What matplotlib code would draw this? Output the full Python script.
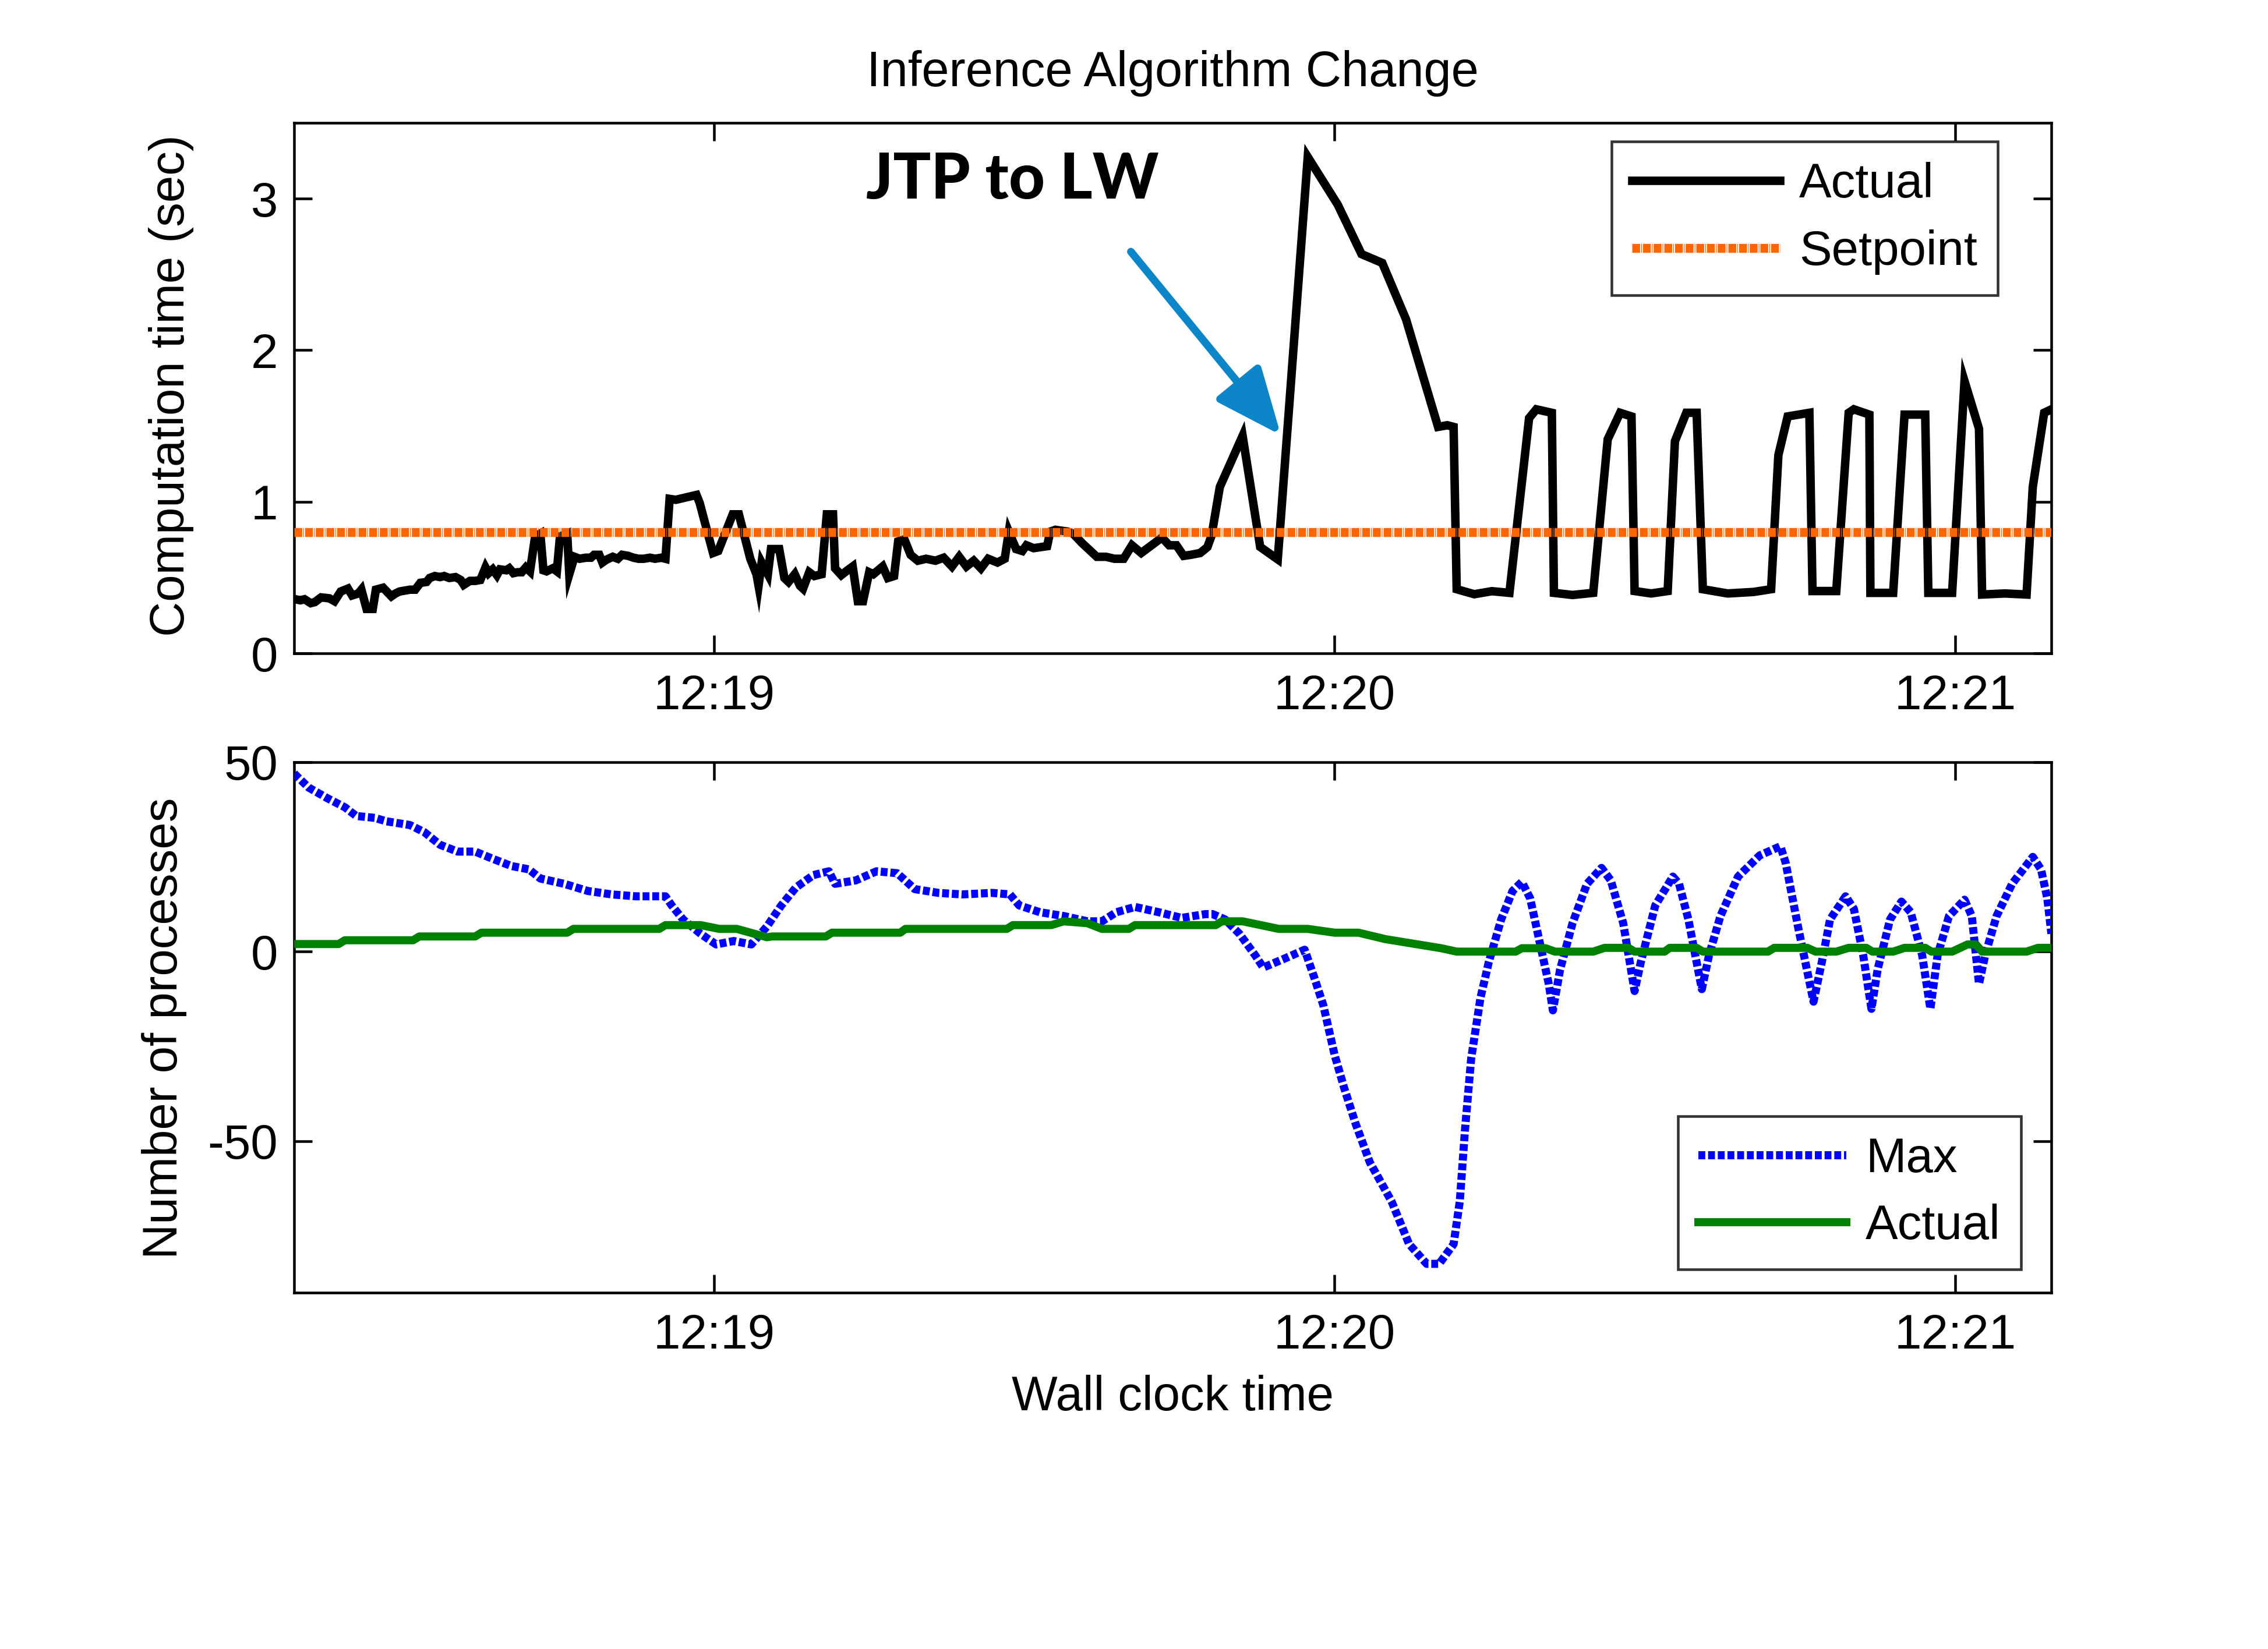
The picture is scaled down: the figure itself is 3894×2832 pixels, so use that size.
"""
Inference Algorithm Change: computation time vs setpoint, and process counts.
"""
import matplotlib
matplotlib.use("Agg")
import matplotlib.pyplot as plt

plt.rcParams["font.family"] = ["Liberation Sans", "DejaVu Sans"]
plt.rcParams["axes.unicode_minus"] = False

# time axis: seconds after 12:18:00
XLIM = (19.4, 189.3)
XTICKS = [60, 120, 180]
XTICK_LABELS = ["12:19", "12:20", "12:21"]

SETPOINT = 0.8

# top panel: measured computation time (sec)
comp_t = [
    19.4, 19.5, 20.0, 20.4, 21.0, 21.4, 22.0, 22.8, 23.3, 23.9, 24.6, 25.0,
    25.6, 25.9, 26.4, 27.0, 27.3, 28.0, 28.8, 29.2, 29.6, 30.1, 30.6, 31.1,
    31.6, 32.2, 32.5, 33.0, 33.5, 33.9, 34.4, 35.0, 35.5, 35.8, 36.4, 36.9,
    37.4, 37.9, 38.2, 38.6, 39.0, 39.3, 39.9, 40.2, 40.6, 41.0, 41.4, 41.8,
    42.2, 42.7, 43.2, 43.5, 43.8, 44.4, 44.8, 45.1, 45.8, 46.0, 46.5, 47.0,
    47.6, 48.1, 48.4, 48.9, 49.2, 49.6, 50.2, 50.7, 51.1, 51.7, 52.2, 52.7,
    53.2, 53.8, 54.3, 54.9, 55.3, 55.7, 56.3, 58.3, 58.6, 59.9, 60.4, 61.8,
    62.4, 63.5,
    64.1, 64.3, 64.6, 65.2, 65.5, 66.3, 66.8, 67.2, 67.8, 68.3, 68.6, 69.2,
    69.7, 70.4, 70.9, 71.5, 71.7, 72.3, 72.9, 73.4, 73.9, 74.4, 75.0, 75.4,
    76.3, 76.8, 77.4, 77.8, 78.4, 79.0, 79.7, 80.5, 81.4, 82.2, 83.0, 83.7,
    84.4, 85.1, 85.8, 86.5, 87.4, 88.1, 88.5, 89.2, 89.8, 90.2, 90.9, 91.6,
    92.2, 92.5, 93.0, 94.2, 94.7, 95.6, 96.4, 97.0, 97.9, 98.7, 99.6, 100.4,
    101.3, 102.3, 103.3, 104.0, 104.7, 105.4, 106.1, 107.0, 107.7, 108.1,
    108.9, 111.1, 112.8, 114.5, 117.4, 120.3, 122.6, 124.6, 126.9, 130.0,
    130.9, 131.5, 131.8, 133.5, 135.2, 136.9, 138.8, 139.5, 141.0, 141.2,
    143.0, 145.0, 146.4, 147.6, 148.7, 149.0, 150.6, 152.2, 152.9, 154.0,
    155.0, 155.6, 158.0, 160.5, 162.2, 162.9, 163.8, 165.9, 166.2, 168.5,
    169.7, 170.2, 171.7, 171.8, 174.0, 175.1, 177.1, 177.4, 179.7, 180.9,
    182.3, 182.6, 184.8, 186.9, 187.5, 188.6, 189.3,
]
comp_sec = [
    0.36, 0.357, 0.350, 0.357, 0.331, 0.338, 0.369, 0.363, 0.344, 0.408, 0.427, 0.382,
    0.395, 0.420, 0.293, 0.293, 0.420, 0.433, 0.376, 0.395, 0.408, 0.414, 0.420, 0.420,
    0.465, 0.471, 0.497, 0.510, 0.503, 0.510, 0.497, 0.503, 0.484, 0.452, 0.478, 0.478,
    0.484, 0.567, 0.529, 0.554, 0.516, 0.554, 0.548, 0.561, 0.529, 0.535, 0.535, 0.567,
    0.541, 0.771, 0.790, 0.548, 0.541, 0.561, 0.541, 0.771, 0.790, 0.522, 0.637, 0.624,
    0.631, 0.631, 0.650, 0.650, 0.599, 0.618, 0.637, 0.624, 0.650, 0.643, 0.631, 0.624,
    0.624, 0.631, 0.624, 0.631, 0.624, 1.019, 1.013, 1.045, 0.994, 0.662, 0.675, 0.917,
    0.917, 0.624,
    0.522, 0.446, 0.599, 0.522, 0.688, 0.688, 0.497, 0.471, 0.522, 0.446, 0.427, 0.535,
    0.510, 0.522, 0.917, 0.917, 0.561, 0.516, 0.548, 0.573, 0.344, 0.344, 0.535, 0.522,
    0.573, 0.497, 0.510, 0.739, 0.752, 0.650, 0.611, 0.624, 0.611, 0.631, 0.573, 0.637,
    0.573, 0.611, 0.561, 0.624, 0.599, 0.624, 0.803, 0.688, 0.675, 0.713, 0.694, 0.701,
    0.707, 0.803, 0.815, 0.803, 0.790, 0.726, 0.675, 0.637, 0.637, 0.624, 0.624, 0.713,
    0.662, 0.713, 0.764, 0.713, 0.713, 0.643, 0.650, 0.662, 0.701, 0.777,
    1.098, 1.435, 0.702, 0.620, 3.275, 2.960, 2.634, 2.576, 2.204, 1.494,
    1.505, 1.494, 0.423, 0.390, 0.410, 0.399, 1.552, 1.610, 1.587, 0.399,
    0.385, 0.399, 1.412, 1.587, 1.563, 0.411, 0.395, 0.411, 1.400, 1.587,
    1.587, 0.423, 0.395, 0.405, 0.423, 1.307, 1.563, 1.587, 0.411, 0.411,
    1.587, 1.610, 1.575, 0.399, 0.399, 1.575, 1.575, 0.399, 0.399, 1.796,
    1.482, 0.388, 0.395, 0.388, 1.098, 1.587, 1.610,
]

# bottom panel: number of processes
max_t = [
    19.4, 20.8, 22.6, 24.3, 25.4, 27.2, 28.3, 30.6, 32.0, 33.5, 35.2, 36.9,
    38.6, 40.4, 42.1, 43.2, 45.5, 47.8, 50.1, 52.4, 55.3, 55.9, 57.0, 58.7,
    60.2, 61.9, 63.6, 65.1, 66.5, 67.9, 69.6, 71.1, 71.7, 73.7, 75.7, 77.7,
    79.4, 81.7, 84.0, 86.9, 88.6, 89.5, 91.5, 93.8, 96.1, 97.5, 98.9, 100.7,
    103.0, 105.2, 107.5, 108.2, 109.4, 110.8, 112.3, 113.1, 115.1, 117.1,
    118.0, 118.9, 120.0, 120.9, 122.0, 123.4, 125.5, 127.2, 128.9, 130.1,
    131.5, 132.1, 132.6, 133.2, 134.1, 134.9, 136.1, 137.2, 138.1, 138.9,
    139.8, 140.7, 141.1, 141.8, 143.0, 144.4, 145.8, 146.7, 147.9, 149.0,
    149.6, 151.0, 152.7, 153.3, 154.2, 155.5, 156.2, 157.3, 159.0, 161.1,
    163.1, 163.6, 164.8, 166.3, 167.1, 167.9, 169.4, 170.2, 171.1, 171.9,
    172.5, 173.7, 174.8, 175.7, 176.8, 177.6, 178.3, 179.4, 180.9, 181.6,
    182.3, 182.9, 184.0, 185.5, 187.5, 188.3, 188.9, 189.3,
]
max_procs = [
    47.0, 43.3, 40.5, 38.1, 35.8, 35.3, 34.4, 33.4, 31.5, 28.2, 26.4, 26.4,
    24.5, 22.6, 21.7, 19.3, 17.9, 16.0, 15.1, 14.6, 14.6, 12.2, 8.5, 4.7,
    1.9, 2.8, 1.9, 6.6, 12.2, 16.9, 20.2, 21.2, 17.9, 18.8, 21.2, 20.7,
    16.5, 15.5, 15.1, 15.5, 15.1, 12.2, 10.4, 9.4, 8.0, 8.0, 10.4, 11.8,
    10.4, 8.9, 9.9, 9.9, 8.5, 4.7, -0.9, -4.2, -1.9, 0.5,
    -6.6, -14.1, -27.3, -35.8, -45.2, -55.6, -65.9, -77.2, -82.4, -82.4,
    -77.2, -65.9, -47.1, -28.2, -12.2, -2.8, 8.5, 16.0, 18.4, 14.1,
    2.8, -8.5, -15.5, -4.7, 7.5, 17.9, 22.1, 18.8, 7.5, -10.4,
    -2.8, 12.2, 19.8, 17.9, 8.5, -9.9, -0.9, 9.4, 19.8, 25.4,
    27.8, 23.5, 6.6, -13.2, -2.8, 8.5, 14.6, 11.3, -0.9, -15.1,
    -4.7, 8.5, 13.2, 10.4, -0.9, -15.1, -0.9, 9.4, 13.7, 9.4,
    -8.5, -0.9, 9.4, 17.9, 25.0, 21.7, 14.1, 4.7,
]

act_t = [
    19.4, 23.7, 24.3, 30.9, 31.5, 36.9, 37.5, 45.8, 46.4, 54.7, 55.3, 58.7,
    60.5, 62.2, 65.1, 65.6, 70.8, 71.4, 78.0, 78.5, 88.3, 88.9, 92.6, 93.8,
    96.1, 97.5, 100.1, 100.7, 108.5, 109.1, 111.1, 114.6, 117.4, 120.0, 122.3,
    124.9, 130.3, 131.8, 137.5, 138.1, 140.4, 141.3, 145.0, 146.1, 148.4,
    149.0, 151.9, 152.4, 155.0, 155.6, 161.9, 162.5, 165.7, 166.5, 168.5,
    169.7, 171.4, 172.0, 174.0, 175.1, 177.1, 177.7, 179.7, 181.2, 182.0,
    182.6, 186.9, 188.0, 189.3,
]
act_procs = [
    2, 2, 3, 3, 4, 4, 5, 5, 6, 6, 7, 7,
    6, 6, 3.8, 4, 4, 5, 5, 6, 6, 7, 7, 8,
    7.5, 6, 6, 7, 7, 8, 8, 6, 6, 5, 5,
    3.3, 0.9, 0, 0, 0.9, 0.9, 0, 0, 1, 1,
    0, 0, 1, 1, 0, 0, 1, 1, 0, 0,
    1, 1, 0, 0, 1, 1, 0, 0, 1.9, 1.9,
    0, 0, 1, 1,
]

FS = 24
ORANGE = "#FF6600"
ARROW_BLUE = "#0D86C9"
GREEN = "#008000"
BLUE = "#0000FF"


def style_axes(ax):
    ax.set_xlim(*XLIM)
    ax.set_xticks(XTICKS)
    ax.set_xticklabels(XTICK_LABELS)
    ax.tick_params(direction="in", top=True, right=True, length=9, width=1.3,
                   labelsize=FS, colors="black")
    ax.tick_params(axis="x", pad=10)
    ax.tick_params(axis="y", pad=8)
    for sp in ax.spines.values():
        sp.set_linewidth(1.3)
        sp.set_color("black")


def style_legend(leg):
    leg.get_frame().set_edgecolor("black")
    leg.get_frame().set_linewidth(1.3)


fig = plt.figure(figsize=(15.576, 11.328), dpi=250)
fig.patch.set_facecolor("white")

ax1 = fig.add_axes([0.1297, 0.6038, 0.7748, 0.3217])
ax2 = fig.add_axes([0.1297, 0.2161, 0.7748, 0.3217])

# ---- top: computation time ----
ax1.plot(comp_t, comp_sec, color="black", lw=4.2, solid_joinstyle="miter",
         label="Actual", zorder=3)
ax1.plot(XLIM, [SETPOINT, SETPOINT], color=ORANGE, lw=4.4,
         linestyle=(0, (0.88, 0.12, 0.08, 0.12)), dash_capstyle="butt",
         label="Setpoint", zorder=4)
ax1.set_ylim(0, 3.5)
ax1.set_yticks([0, 1, 2, 3])
style_axes(ax1)
ax1.set_ylabel("Computation time (sec)", fontsize=FS)
ax1.yaxis.set_label_coords(-0.057, 0.505)
ax1.set_title("Inference Algorithm Change", fontsize=24.4, pad=18)

ax1.text(74.7, 3.0, "JTP to LW", fontsize=31, fontweight="black",
         family=["Lato", "Liberation Sans", "DejaVu Sans"], va="baseline", ha="left")
ax1.annotate("", xy=(114.8, 1.44), xytext=(100.3, 2.65),
             arrowprops=dict(arrowstyle="-|>,head_length=0.7,head_width=0.3",
                             mutation_scale=40, lw=3.8, color=ARROW_BLUE,
                             shrinkA=0, shrinkB=0), zorder=5)

leg1 = ax1.legend(loc="upper right", bbox_to_anchor=(0.9695, 0.9646), borderaxespad=0,
                  fontsize=FS, frameon=True, fancybox=False, handlelength=3.05,
                  handletextpad=0.4, labelspacing=0.45, borderpad=0.42)
style_legend(leg1)

# ---- bottom: number of processes ----
ax2.plot(max_t, max_procs, color=BLUE, lw=4.0, linestyle=(0, (0.85, 0.35)),
         dash_capstyle="butt", label="Max", zorder=3)
ax2.plot(act_t, act_procs, color=GREEN, lw=4.0, label="Actual", zorder=4)
ax2.set_ylim(-90, 50)
ax2.set_yticks([-50, 0, 50])
style_axes(ax2)
ax2.set_ylabel("Number of processes", fontsize=FS)
ax2.yaxis.set_label_coords(-0.061, 0.499)
ax2.set_xlabel("Wall clock time", fontsize=FS)
ax2.xaxis.set_label_coords(0.5, -0.155)

leg2 = ax2.legend(loc="lower right", bbox_to_anchor=(0.9827, 0.0436), borderaxespad=0,
                  fontsize=FS, frameon=True, fancybox=False, handlelength=3.05,
                  handletextpad=0.4, labelspacing=0.45, borderpad=0.42)
style_legend(leg2)

fig.savefig("out.png", dpi=250, facecolor="white")
